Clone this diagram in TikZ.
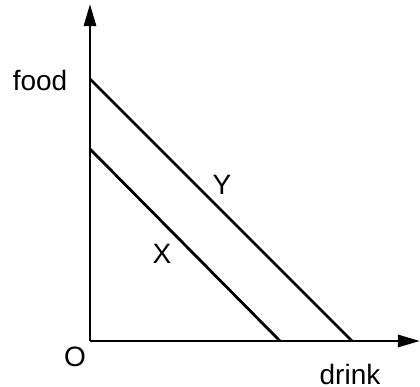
\documentclass[tikz,border=0pt]{standalone}
\usepackage{fontspec}
\setmainfont{Liberation Sans}
\usepackage{tikz}
\usetikzlibrary{positioning,arrows.meta}

\begin{document}
\begin{tikzpicture}[
  x=0.5pt, y=0.5pt,
  >={Triangle[length=11pt,width=6pt]},
  axis/.style={line width=1.4pt, ->},
  budget/.style={line width=1.4pt},
  lbl/.style={inner sep=0pt, font=\fontsize{14}{16}\selectfont},
]
\useasboundingbox (0,0) rectangle (420,387);
\coordinate (o) at (90,46);
\coordinate (ytop) at (90,383);
\coordinate (xend) at (420,46);
\draw[axis] (o) -- (ytop);
\draw[axis] (o) -- (xend);
% budget lines
\coordinate (ya) at (90,308);
\coordinate (yb) at (352,46);
\coordinate (xa) at (90,238);
\coordinate (xb) at (280,46);
\draw[budget] (ya) -- (yb);
\draw[budget] (xa) -- (xb);
% labels
\node[lbl] (food) at (40,307) {food};
\node[lbl] (orig) at (75,30) {O};
\node[lbl] (drink) at (350,13) {drink};
\node[lbl] (ylab) at (222,202) {Y};
\node[lbl] (xlab) at (162,133) {X};
\end{tikzpicture}
\end{document}
